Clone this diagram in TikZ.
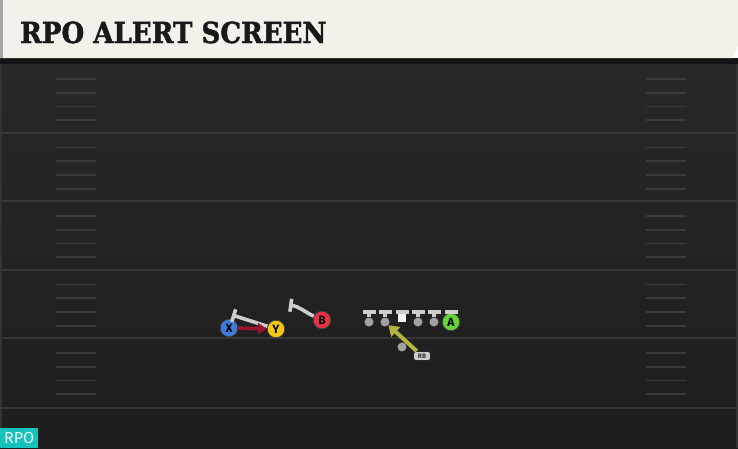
\documentclass[tikz,border=0pt]{standalone}
\usepackage{xcolor}
\usepackage{fontspec}
\setsansfont{Fira Sans}
\newfontfamily\titlefont{DejaVu Serif Condensed}[BoldFeatures={FakeBold=1.5}]
\usepackage{tikz}
\usetikzlibrary{arrows.meta,positioning}

\definecolor{fieldtop}{HTML}{282828}
\definecolor{fieldbot}{HTML}{1D1D1D}
\definecolor{yardgray}{HTML}{363636}
\definecolor{hashgray}{HTML}{3A3A3A}
\definecolor{cream}{HTML}{F4F1EA}
\definecolor{rpoteal}{HTML}{17C2BC}
\definecolor{wrblue}{HTML}{3C7DDE}
\definecolor{teyellow}{HTML}{F6C616}
\definecolor{slotred}{HTML}{E6333F}
\definecolor{tegreen}{HTML}{63D53A}
\definecolor{motionred}{HTML}{A0122E}
\definecolor{readolive}{HTML}{B5B340}
\definecolor{blockgray}{HTML}{CDCDCD}
\definecolor{olgray}{HTML}{A2A2A2}

\begin{document}
\begin{tikzpicture}[x=1pt, y=-1pt,
  player/.style={circle, draw=black!75, line width=0.8pt, minimum size=17.5pt, inner sep=0pt,
                 text=black, font=\sffamily\bfseries\fontsize{12}{12}\selectfont},
  lineman/.style={circle, fill=olgray, minimum size=9pt, inner sep=0pt},
  snapper/.style={rectangle, fill=white!96!black, minimum size=8.5pt, inner sep=0pt},
  block/.style={draw=blockgray, line width=3.6pt, -{Bar[width=13pt]}},
  motion/.style={draw=motionred, line width=3.6pt, -{Triangle[length=9pt,width=11pt]}},
  read/.style={draw=readolive, line width=4pt, -{Triangle[length=10pt,width=13pt]}},
  yardline/.style={draw=yardgray, line width=2pt},
  hash/.style={draw=hashgray, line width=1.8pt}
]
\useasboundingbox (0,0) rectangle (738,448);

% --- Field ---
\shade[top color=fieldtop, bottom color=fieldbot] (0,60) rectangle (738,448);
\fill[black!80] (0,64) rectangle (2,448);
\fill[black!80] (736,64) rectangle (738,448);
% Yard lines
\foreach \yl in {133,201,270,338,408} {
    \draw[yardline] (0,\yl) -- (738,\yl);
}
% Hash marks (four between yard lines, both sides)
\foreach \k in {0,...,4} {
    \foreach \j in {0,...,3} {
        \pgfmathsetmacro{\yh}{79+68.5*\k+13.7*\j}
        \draw[hash] (56,\yh) -- (96,\yh);
        \draw[hash] (646,\yh) -- (686,\yh);
    }
}

% --- Header ---
\fill[black!92] (0,58) rectangle (738,64);
\fill[cream] (0,0) -- (738,0) -- (738,46) -- (733,58) -- (0,58) -- cycle;
\fill[black!35] (0,0) rectangle (3,58);
\node[anchor=base west, inner sep=0pt, text=black!90, font=\titlefont\bfseries\fontsize{29}{29}\selectfont] (title) at (20,43) {RPO ALERT SCREEN};

% --- Offensive line ---
\foreach \i/\xl in {1/369,2/385,4/418,5/434} {
    \node[lineman] (L\i) at (\xl,322) {};
    \coordinate (L\i blk) at (\xl,310);
    \draw[block] (L\i) -- (L\i blk);
}
\node[snapper] (L3) at (402,318) {};
\coordinate (L3blk) at (402,310);
\draw[block] (L3) -- (L3blk);

% QB and RB
\node[lineman] (QB) at (402,347) {};
\node[rectangle, rounded corners=2.5pt, fill=black!20, draw=black!85, line width=0.8pt,
      minimum width=17pt, minimum height=9pt, inner sep=0pt, text=black!80,
      font=\sffamily\bfseries\fontsize{6.5}{6.5}\selectfont] (RB) at (422,356) {RB};
\draw[read] (RB) -- (L2);

% --- Skill players ---
\node[player, fill=wrblue] (X) at (229,328) {X};
\node[player, fill=teyellow] (Y) at (276,329) {Y};
\node[player, fill=slotred] (B) at (322,320) {B};
\node[player, fill=tegreen] (A) at (451,322) {A};

% Blocks
\coordinate (Yblk) at (232,315);
\coordinate (Bblk) at (289,305);
\coordinate (Ablk) at (451,310);
\draw[block] (Y) -- (Yblk);
\draw[block] (B) to[out=155, in=-8] (Bblk);
\draw[block] (A) -- (Ablk);
% Motion
\draw[motion] (X) -- (Y);

% --- Play tag ---
\node[anchor=south west, fill=rpoteal, minimum width=38pt, minimum height=20pt, inner sep=0pt,
      text=white!92!rpoteal, font=\sffamily\fontsize{16}{16}\selectfont] (tag) at (0,448) {RPO};
\end{tikzpicture}
\end{document}
